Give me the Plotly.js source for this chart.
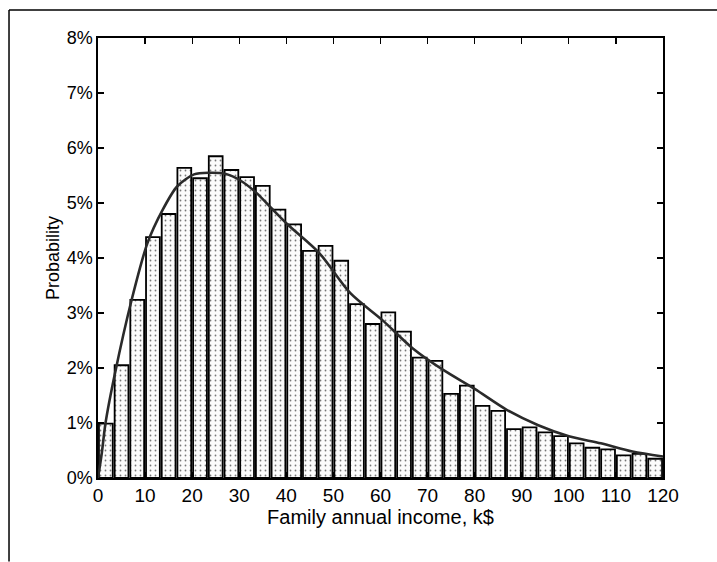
<!DOCTYPE html>
<html>
<head>
<meta charset="utf-8">
<script src="https://cdn.plot.ly/plotly-3.0.1.min.js"></script>
<style>html,body{margin:0;padding:0;background:#fff;}#chart{width:717px;height:562px;}</style>
</head>
<body>
<div id="chart"></div>
<script>
// Histogram: 36 equal bins over 0..120 k$
const binCount = 36;
const incomeMax = 120;
const barProb = [0.99, 2.05, 3.24, 4.38, 4.80, 5.64, 5.45, 5.85, 5.60, 5.47, 5.31, 4.88,
                 4.61, 4.13, 4.22, 3.95, 3.16, 2.80, 3.01, 2.66, 2.19, 2.13, 1.53, 1.68,
                 1.31, 1.22, 0.89, 0.92, 0.83, 0.76, 0.63, 0.55, 0.52, 0.41, 0.44, 0.35];
// Fitted density curve
const curveX = [0, 0.8, 1.6, 3.6, 7.15, 10.5, 13.7, 16.8, 20.4, 23.6, 27, 30.4, 33.7, 36.9,
                40.4, 47, 53.6, 60.4, 66.8, 73.4, 80, 86.8, 93.5, 100, 106.8, 113.5, 120];
const curveY = [0, 0.45, 1.0, 1.9, 3.24, 4.27, 4.87, 5.30, 5.52, 5.55, 5.53, 5.40, 5.18, 4.90,
                4.60, 4.09, 3.36, 2.87, 2.36, 1.96, 1.62, 1.24, 0.96, 0.76, 0.63, 0.48, 0.39];
const xTicks = [0, 10, 20, 30, 40, 50, 60, 70, 80, 90, 100, 110, 120];
const yTicks = [0, 1, 2, 3, 4, 5, 6, 7, 8];

const binW = incomeMax / binCount;
const barX = barProb.map((_, i) => (i + 0.5) * binW);

const font = 'Liberation Sans, Arial, sans-serif';
const traces = [
  {
    type: 'bar', x: barX, y: barProb, width: binW * 0.88,
    marker: {
      color: '#ffffff',
      line: {color: '#000', width: 1.8},
      pattern: {shape: '.', size: 5, solidity: 0.1, fgcolor: '#777', bgcolor: '#fbfbfb'}
    },
    hoverinfo: 'skip'
  },
  {
    type: 'scatter', mode: 'lines', x: curveX, y: curveY,
    line: {color: '#2a2a2a', width: 2.6, shape: 'spline', smoothing: 0.8},
    hoverinfo: 'skip'
  }
];

const layout = {
  width: 717, height: 562,
  margin: {l: 98, r: 54, t: 38, b: 84},
  paper_bgcolor: '#fff', plot_bgcolor: '#fff',
  showlegend: false,
  bargap: 0,
  font: {family: font, color: '#000', size: 18},
  xaxis: {
    range: [0, incomeMax], tickvals: xTicks, ticktext: xTicks.map(String),
    ticks: 'inside', ticklen: 6, tickwidth: 1.2, tickcolor: '#000',
    showline: true, linecolor: '#000', linewidth: 1.6, mirror: 'ticks',
    showgrid: false, zeroline: false,
    tickfont: {size: 19, family: font},
    title: {text: 'Family annual income, k$', font: {size: 20, family: font}, standoff: 2}
  },
  yaxis: {
    range: [0, 8], tickvals: yTicks, ticktext: yTicks.map(v => v + '%'),
    ticks: 'inside', ticklen: 6, tickwidth: 1.2, tickcolor: '#000',
    showline: true, linecolor: '#000', linewidth: 1.6, mirror: 'ticks',
    showgrid: false, zeroline: false,
    tickfont: {size: 18, family: font},
    title: {text: 'Probability', font: {size: 18, family: font}, standoff: 2}
  },
  shapes: [
    {type: 'line', xref: 'paper', yref: 'paper', x0: -0.1575, x1: 1.1, y0: 1.0636, y1: 1.0636,
     line: {color: '#000', width: 1.5}},
    {type: 'line', xref: 'paper', yref: 'paper', x0: -0.1575, x1: -0.1575, y0: 1.0636, y1: -0.19,
     line: {color: '#000', width: 1.5}}
  ]
};

Plotly.newPlot('chart', traces, layout, {displayModeBar: false, staticPlot: true});
</script>
</body>
</html>
